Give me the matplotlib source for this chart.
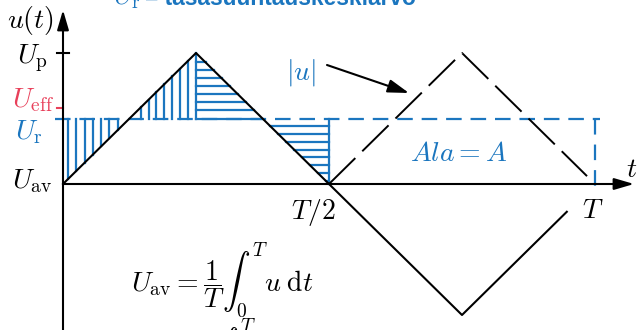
import matplotlib
matplotlib.use('Agg')
import matplotlib.pyplot as plt
import numpy as np

plt.rcParams['mathtext.fontset'] = 'cm'
plt.rcParams['font.family'] = 'DejaVu Serif'

###  DATA  ###

T = 1.0
U_p = 1.0
U_r = U_p / 2                 # tasasuuntauskeskiarvo
U_eff = U_p / np.sqrt(3)      # tehollisarvo

t_wave = [0.0, 0.25, 0.5, 0.75, 0.947]
u_wave = [0.0, 1.0, 0.0, -1.0, -0.212]

t_abs = [0.5, 0.75, 0.985]
u_abs = [0.0, 1.0, 0.06]

BLUE = '#1b76bf'
RED = '#e8405a'

# pikselit -> datayksikot (t, u)
def X(px):
    return (px - 63) / 532.0

def Y(py):
    return (184 - py) / 131.0

###  PLOT  ###

fig = plt.figure(figsize=(6.37, 3.30), dpi=100)
ax = fig.add_axes([0, 0, 1, 1])
ax.axis('off')
ax.set_xlim(X(0), X(637))
ax.set_ylim(Y(330), Y(0))

# viivoitukset
for t in np.arange(X(68), 0.118, 0.0156):
    ax.plot([t, t], [4 * t, U_r], color=BLUE, lw=1.6, zorder=2)
for k in range(1, 8):
    t = 0.25 - k * 0.01485
    ax.plot([t, t], [U_r, 4 * t], color=BLUE, lw=1.6, zorder=2)
for k in range(0, 8):
    u = U_r + k * 0.0611
    ax.plot([0.25, 0.5 - u / 4], [u, u], color=BLUE, lw=1.6, zorder=2)
for k in range(1, 9):
    u = U_r - k * 0.0595
    ax.plot([0.5 - u / 4, 0.5], [u, u], color=BLUE, lw=1.6, zorder=2)
ax.plot([0.25, 0.25], [U_r, U_p], color=BLUE, lw=1.6, zorder=2)
ax.plot([0.5, 0.5], [0, U_r], color=BLUE, lw=1.6, zorder=2)

# U_r katkoviiva
ax.plot([X(55), X(600)], [U_r, U_r], color=BLUE, lw=1.6, dashes=(7, 4), zorder=2)
ax.plot([T, T], [U_r, Y(193)], color=BLUE, lw=1.6, dashes=(7, 4.5), zorder=2)

# kayrat
ax.plot(t_wave, u_wave, color='k', lw=1.5, zorder=3)
ax.plot(t_abs, u_abs, color='k', lw=1.4, dashes=(19, 5), zorder=3)

# akselit
ax.annotate('', xy=(X(634), 0), xytext=(0, 0),
            arrowprops=dict(arrowstyle='-|>,head_length=0.75,head_width=0.22',
                            lw=1.5, color='k', shrinkA=0, shrinkB=0, mutation_scale=16))
ax.annotate('', xy=(0, Y(10)), xytext=(0, Y(335)),
            arrowprops=dict(arrowstyle='-|>,head_length=0.75,head_width=0.22',
                            lw=1.5, color='k', shrinkA=0, shrinkB=0, mutation_scale=16))
ax.plot([X(57), X(69)], [U_p, U_p], color='k', lw=1.5)
ax.plot([X(57), X(63)], [U_eff, U_eff], color=RED, lw=1.5)

# tekstit
fs = 20
ax.text(X(54), Y(28), r'$u(t)$', fontsize=fs, ha='right', va='baseline')
ax.text(X(48), Y(63), r'$U_\mathrm{p}$', fontsize=fs, ha='right', va='baseline')
ax.text(X(54), Y(107), r'$U_\mathrm{eff}$', fontsize=fs, ha='right', va='baseline', color=RED)
ax.text(X(43), Y(139), r'$U_\mathrm{r}$', fontsize=fs, ha='right', va='baseline', color=BLUE)
ax.text(X(53), Y(188), r'$U_\mathrm{av}$', fontsize=fs, ha='right', va='baseline')
ax.text(X(313), Y(219), r'$T/2$', fontsize=fs, ha='center', va='baseline')
ax.text(X(593), Y(218), r'$T$', fontsize=fs, ha='center', va='baseline')
ax.text(X(632), Y(177), r'$t$', fontsize=fs, ha='center', va='baseline')
ax.text(X(301), Y(80), r'$|u|$', fontsize=fs, ha='center', va='baseline', color=BLUE)
ax.text(X(459), Y(161), r'$Ala = A$', fontsize=fs, ha='center', va='baseline', color=BLUE)
ax.annotate('', xy=(X(409), Y(93)), xytext=(X(327), Y(65)),
            arrowprops=dict(arrowstyle='-|>,head_length=0.8,head_width=0.25',
                            lw=1.5, color='k', shrinkA=0, shrinkB=0, mutation_scale=16))

ax.text(X(131), Y(290), r'$U_\mathrm{av} = \dfrac{1}{T}\int_0^T u\;\mathrm{d}t$',
        fontsize=fs, ha='left', va='baseline')
ax.text(X(131), Y(366), r'$U_\mathrm{r} = \dfrac{1}{T}\int_0^T |u|\;\mathrm{d}t$',
        fontsize=fs, ha='left', va='baseline')

# otsikko (leikkautunut ylareunasta)
ax.text(X(113), Y(4), r'$U_\mathrm{r}$', fontsize=fs, ha='left', va='baseline', color=BLUE)
ax.text(X(145), Y(5), '= tasasuuntauskeskiarvo', fontsize=16.4, ha='left', va='baseline',
        color=BLUE, fontweight='bold', family='Liberation Sans')

fig.savefig('out.png', dpi=100)
